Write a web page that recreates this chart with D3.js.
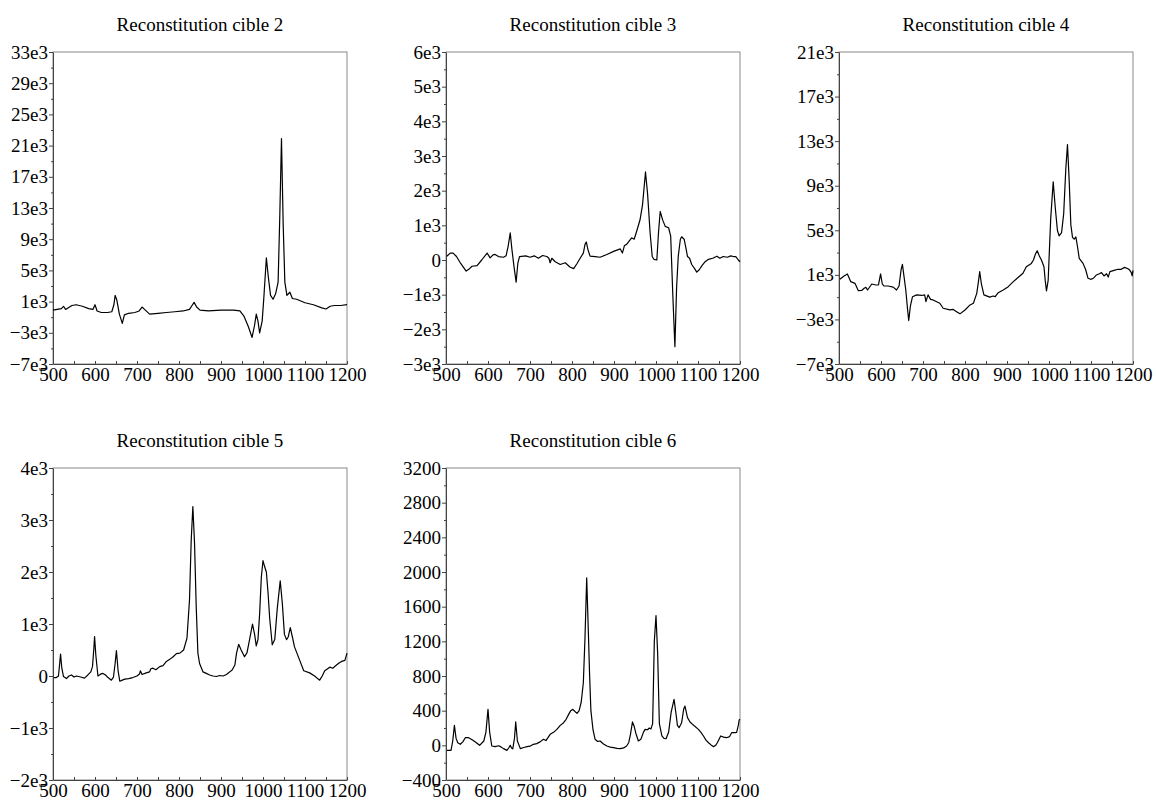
<!DOCTYPE html>
<html>
<head>
<meta charset="utf-8">
<script src="https://d3js.org/d3.v7.min.js"></script>
<style>
  body { margin: 0; background: #fff; }
  svg { display: block; }
  text { font-family: "Liberation Serif", "Times New Roman", serif; fill: #000; }
</style>
</head>
<body>
<div id="chart"></div>
<script>
// wavenumber axis shared by all panels
const xTicks = [500, 600, 700, 800, 900, 1000, 1100, 1200];

// Reconstitution cible 2
const wn2 = [500, 510, 520, 525, 530, 545, 555, 570, 585, 595, 600, 605, 615, 630, 640, 645, 648, 652, 658, 665, 670, 680, 695, 705, 712, 718, 730, 750, 770, 790, 810, 825, 831, 836, 842, 850, 870, 900, 930, 945, 955, 965, 974, 980, 984, 988, 992, 998, 1002, 1008, 1013, 1018, 1024, 1030, 1036, 1040, 1044, 1048, 1052, 1057, 1064, 1070, 1080, 1100, 1120, 1140, 1150, 1160, 1170, 1185, 1200];
const cible2 = [-100, 0, 100, 400, 0, 500, 600, 400, 100, 0, 600, -200, -400, -400, -300, 600, 1800, 1200, -600, -1800, -700, -500, -400, -200, 300, 0, -600, -500, -400, -300, -200, 0, 500, 900, 300, -100, -200, -100, -100, -200, -900, -2200, -3600, -2000, -600, -1500, -3000, -1500, 1500, 6600, 4000, 1800, 1300, 2000, 3500, 12000, 21900, 11000, 3500, 1800, 2200, 1400, 1300, 850, 600, 200, 50, 400, 500, 500, 600];

// Reconstitution cible 3
const wn3 = [502, 510, 517, 525, 535, 548, 556, 562, 574, 585, 598, 605, 612, 617, 625, 637, 643, 648, 653, 657, 662, 667, 671, 675, 690, 700, 710, 720, 730, 740, 745, 748, 752, 760, 772, 784, 795, 804, 812, 818, 827, 831, 834, 838, 843, 855, 867, 883, 899, 910, 915, 920, 925, 930, 942, 948, 954, 962, 968, 975, 980, 986, 991, 995, 1002, 1006, 1010, 1016, 1022, 1030, 1035, 1040, 1045, 1049, 1053, 1058, 1061, 1067, 1072, 1075, 1080, 1085, 1092, 1097, 1103, 1109, 1117, 1125, 1135, 1145, 1152, 1160, 1170, 1178, 1184, 1190, 1196, 1200];
const cible3 = [110, 200, 200, 100, -100, -320, -250, -180, -160, 0, 200, 60, 150, 160, 100, 80, 120, 400, 780, 300, -200, -640, -100, 100, 120, 80, 120, 50, 130, 100, 50, -80, 50, -50, -130, -80, -200, -250, -100, 20, 200, 450, 520, 300, 110, 100, 80, 160, 250, 300, 320, 200, 420, 450, 640, 600, 830, 1160, 1600, 2540, 1900, 780, 100, 20, 0, 800, 1400, 1150, 970, 930, 690, -1000, -2500, -800, 110, 600, 670, 600, 300, 100, 50, -130, -250, -350, -280, -170, -50, 20, 50, 110, 50, 100, 80, 120, 100, 100, 0, -50];

// Reconstitution cible 4
const wn4 = [502, 512, 520, 528, 538, 546, 554, 560, 564, 568, 578, 588, 594, 599, 603, 607, 617, 629, 637, 643, 648, 651, 655, 659, 663, 666, 670, 675, 685, 697, 704, 707, 712, 718, 724, 740, 748, 764, 772, 780, 788, 800, 812, 820, 828, 832, 835, 839, 845, 859, 867, 872, 879, 891, 903, 915, 927, 938, 946, 958, 963, 968, 972, 977, 982, 988, 991, 994, 998, 1004, 1010, 1015, 1020, 1024, 1030, 1035, 1040, 1044, 1048, 1052, 1056, 1060, 1064, 1068, 1072, 1081, 1087, 1093, 1099, 1106, 1113, 1120, 1125, 1131, 1137, 1141, 1145, 1155, 1164, 1172, 1180, 1188, 1192, 1196, 1198, 1200];
const cible4 = [600, 900, 1080, 390, 240, -420, -400, -200, -120, -360, 180, 90, 100, 1080, 200, 0, 0, -100, -360, 0, 1500, 1940, 800, -360, -2000, -3100, -1800, -960, -800, -850, -800, -1400, -800, -1200, -1250, -1550, -2000, -2150, -2100, -2300, -2500, -2150, -1700, -1550, -660, 400, 1290, 200, -800, -1000, -900, -950, -600, -360, -60, 390, 780, 1140, 1730, 2030, 2330, 2900, 3170, 2700, 2330, 1730, 500, -450, 500, 6000, 9350, 7000, 5000, 4500, 4800, 6500, 10500, 12700, 9500, 5500, 4360, 4200, 4400, 3500, 2480, 2030, 1500, 690, 600, 700, 990, 1100, 1200, 900, 1100, 800, 1290, 1400, 1500, 1500, 1670, 1550, 1430, 1200, 900, 1400];

// Reconstitution cible 5
const wn5 = [502, 508, 513, 516, 518, 521, 525, 532, 538, 544, 550, 556, 566, 575, 583, 590, 594, 597, 599, 602, 607, 614, 619, 625, 631, 639, 644, 648, 651, 655, 659, 665, 671, 680, 690, 700, 706, 708, 712, 722, 730, 733, 738, 745, 754, 762, 770, 778, 786, 794, 802, 811, 819, 825, 829, 833, 837, 841, 845, 849, 857, 865, 873, 881, 889, 897, 905, 913, 921, 927, 933, 937, 942, 948, 956, 962, 968, 975, 980, 984, 988, 992, 996, 1000, 1004, 1008, 1012, 1016, 1022, 1028, 1034, 1041, 1046, 1051, 1056, 1060, 1065, 1070, 1075, 1087, 1097, 1111, 1123, 1130, 1135, 1141, 1147, 1159, 1166, 1175, 1181, 1187, 1195, 1200];
const cible5 = [-30, -30, 0, 250, 420, 150, -10, -50, 0, 20, -20, 0, -20, -40, 20, 80, 180, 500, 760, 400, 0, 40, 50, 20, -30, -80, -20, 250, 490, 100, -100, -80, -60, -50, -30, 0, 40, 100, 30, 60, 80, 140, 150, 120, 180, 200, 280, 320, 370, 430, 440, 500, 730, 1460, 2600, 3260, 2550, 1330, 440, 240, 80, 50, 20, 0, -10, 10, 0, 30, 80, 120, 210, 440, 610, 500, 370, 450, 700, 1000, 800, 580, 700, 1200, 1900, 2220, 2100, 2000, 1600, 1100, 600, 700, 1300, 1830, 1400, 800, 700, 750, 930, 750, 560, 310, 100, 60, 0, -50, -80, 0, 100, 170, 150, 210, 250, 280, 300, 440];

// Reconstitution cible 6
const wn6 = [502, 512, 516, 520, 524, 528, 534, 540, 546, 554, 562, 570, 580, 590, 595, 600, 604, 609, 617, 625, 630, 637, 645, 650, 653, 656, 659, 663, 666, 670, 677, 685, 693, 700, 708, 716, 724, 732, 738, 748, 756, 764, 772, 780, 786, 792, 797, 802, 807, 812, 817, 822, 827, 831, 835, 839, 842, 845, 850, 855, 861, 867, 875, 883, 891, 899, 907, 915, 923, 930, 935, 939, 944, 948, 952, 958, 964, 970, 974, 980, 984, 988, 992, 996, 1000, 1004, 1008, 1014, 1019, 1024, 1030, 1036, 1043, 1048, 1051, 1055, 1061, 1066, 1069, 1075, 1081, 1091, 1101, 1107, 1113, 1119, 1125, 1131, 1137, 1142, 1146, 1154, 1161, 1168, 1175, 1180, 1188, 1192, 1196, 1198, 1200];
const cible6 = [-58, -58, 50, 230, 80, 30, 12, 40, 88, 88, 65, 38, 0, 50, 150, 415, 150, -8, -15, -5, -15, -38, -58, -25, 0, -30, -40, 80, 270, 50, -38, -25, -15, -10, 12, 20, 40, 70, 55, 127, 150, 184, 230, 261, 300, 357, 400, 415, 390, 369, 400, 500, 722, 1250, 1932, 1300, 800, 400, 180, 70, 45, 50, 15, -8, -20, -27, -35, -38, -30, -8, 30, 120, 270, 220, 140, 50, 70, 150, 184, 180, 200, 190, 250, 1200, 1498, 1050, 250, 110, 80, 77, 150, 380, 530, 350, 230, 204, 260, 420, 453, 320, 269, 225, 184, 150, 108, 60, 30, 5, -15, 0, 30, 108, 95, 88, 100, 146, 146, 150, 230, 292, 300];

// y tick values and their labels
const yTicks2 = [-7000, -3000, 1000, 5000, 9000, 13000, 17000, 21000, 25000, 29000, 33000];
const yLabels2 = ["\u22127e3", "\u22123e3", "1e3", "5e3", "9e3", "13e3", "17e3", "21e3", "25e3", "29e3", "33e3"];
const yTicks3 = [-3000, -2000, -1000, 0, 1000, 2000, 3000, 4000, 5000, 6000];
const yLabels3 = ["\u22123e3", "\u22122e3", "\u22121e3", "0", "1e3", "2e3", "3e3", "4e3", "5e3", "6e3"];
const yTicks4 = [-7000, -3000, 1000, 5000, 9000, 13000, 17000, 21000];
const yLabels4 = ["\u22127e3", "\u22123e3", "1e3", "5e3", "9e3", "13e3", "17e3", "21e3"];
const yTicks5 = [-2000, -1000, 0, 1000, 2000, 3000, 4000];
const yLabels5 = ["\u22122e3", "\u22121e3", "0", "1e3", "2e3", "3e3", "4e3"];
const yTicks6 = [-400, 0, 400, 800, 1200, 1600, 2000, 2400, 2800, 3200];
const yLabels6 = ["\u2212400", "0", "400", "800", "1200", "1600", "2000", "2400", "2800", "3200"];

const panels = [
  { title: "Reconstitution cible 2", x: wn2, y: cible2, ticks: yTicks2, labels: yLabels2, left: 53, top: 52 },
  { title: "Reconstitution cible 3", x: wn3, y: cible3, ticks: yTicks3, labels: yLabels3, left: 446, top: 52 },
  { title: "Reconstitution cible 4", x: wn4, y: cible4, ticks: yTicks4, labels: yLabels4, left: 839, top: 52 },
  { title: "Reconstitution cible 5", x: wn5, y: cible5, ticks: yTicks5, labels: yLabels5, left: 53, top: 468 },
  { title: "Reconstitution cible 6", x: wn6, y: cible6, ticks: yTicks6, labels: yLabels6, left: 446, top: 468 }
];

const W = 1156, H = 810;
const pw = 294, ph = 312;

const svg = d3.select("#chart").append("svg")
  .attr("width", W)
  .attr("height", H);

panels.forEach(p => {
  const g = svg.append("g").attr("transform", `translate(${p.left},${p.top})`);

  const x = d3.scaleLinear().domain([500, 1200]).range([0, pw]);
  const y = d3.scaleLinear().domain(d3.extent(p.ticks)).range([ph, 0]);

  // light frame (top and right sides)
  g.append("rect")
    .attr("width", pw).attr("height", ph)
    .attr("fill", "none")
    .attr("stroke", "#8a8a8a")
    .attr("stroke-width", 1);

  // minor y ticks halfway between labelled ones
  const minors = d3.pairs(p.ticks).map(d => (d[0] + d[1]) / 2);
  g.append("g")
    .call(d3.axisLeft(y).tickValues(minors).tickSize(2).tickSizeOuter(0).tickFormat(""))
    .call(a => a.select(".domain").remove())
    .selectAll("line").attr("stroke", "#444");

  const yAxis = g.append("g")
    .call(d3.axisLeft(y).tickValues(p.ticks).tickSize(4).tickSizeOuter(0).tickPadding(1)
      .tickFormat((d, i) => p.labels[i]));
  yAxis.select(".domain").attr("stroke", "#444");
  yAxis.selectAll("line").attr("stroke", "#444");
  yAxis.selectAll("text").style("font-size", "19px").attr("fill", "#000");

  // x ticks every 50, pointing inward
  const xAxis = g.append("g")
    .attr("transform", `translate(0,${ph})`)
    .call(d3.axisBottom(x).tickValues(d3.range(500, 1201, 50)).tickSizeInner(-3).tickSizeOuter(0).tickPadding(3)
      .tickFormat(d => xTicks.includes(d) ? d : ""));
  xAxis.select(".domain").attr("stroke", "#444");
  xAxis.selectAll("line").attr("stroke", "#444");
  xAxis.selectAll("text").style("font-size", "19px").attr("fill", "#000");

  const line = d3.line()
    .x((d, i) => x(p.x[i]))
    .y(d => y(d));

  g.append("path")
    .datum(p.y)
    .attr("fill", "none")
    .attr("stroke", "#000")
    .attr("stroke-width", 1.2)
    .attr("stroke-linejoin", "round")
    .attr("d", line);

  g.append("text")
    .attr("x", pw / 2)
    .attr("y", -21)
    .attr("text-anchor", "middle")
    .style("font-size", "19px")
    .text(p.title);
});
</script>
</body>
</html>
